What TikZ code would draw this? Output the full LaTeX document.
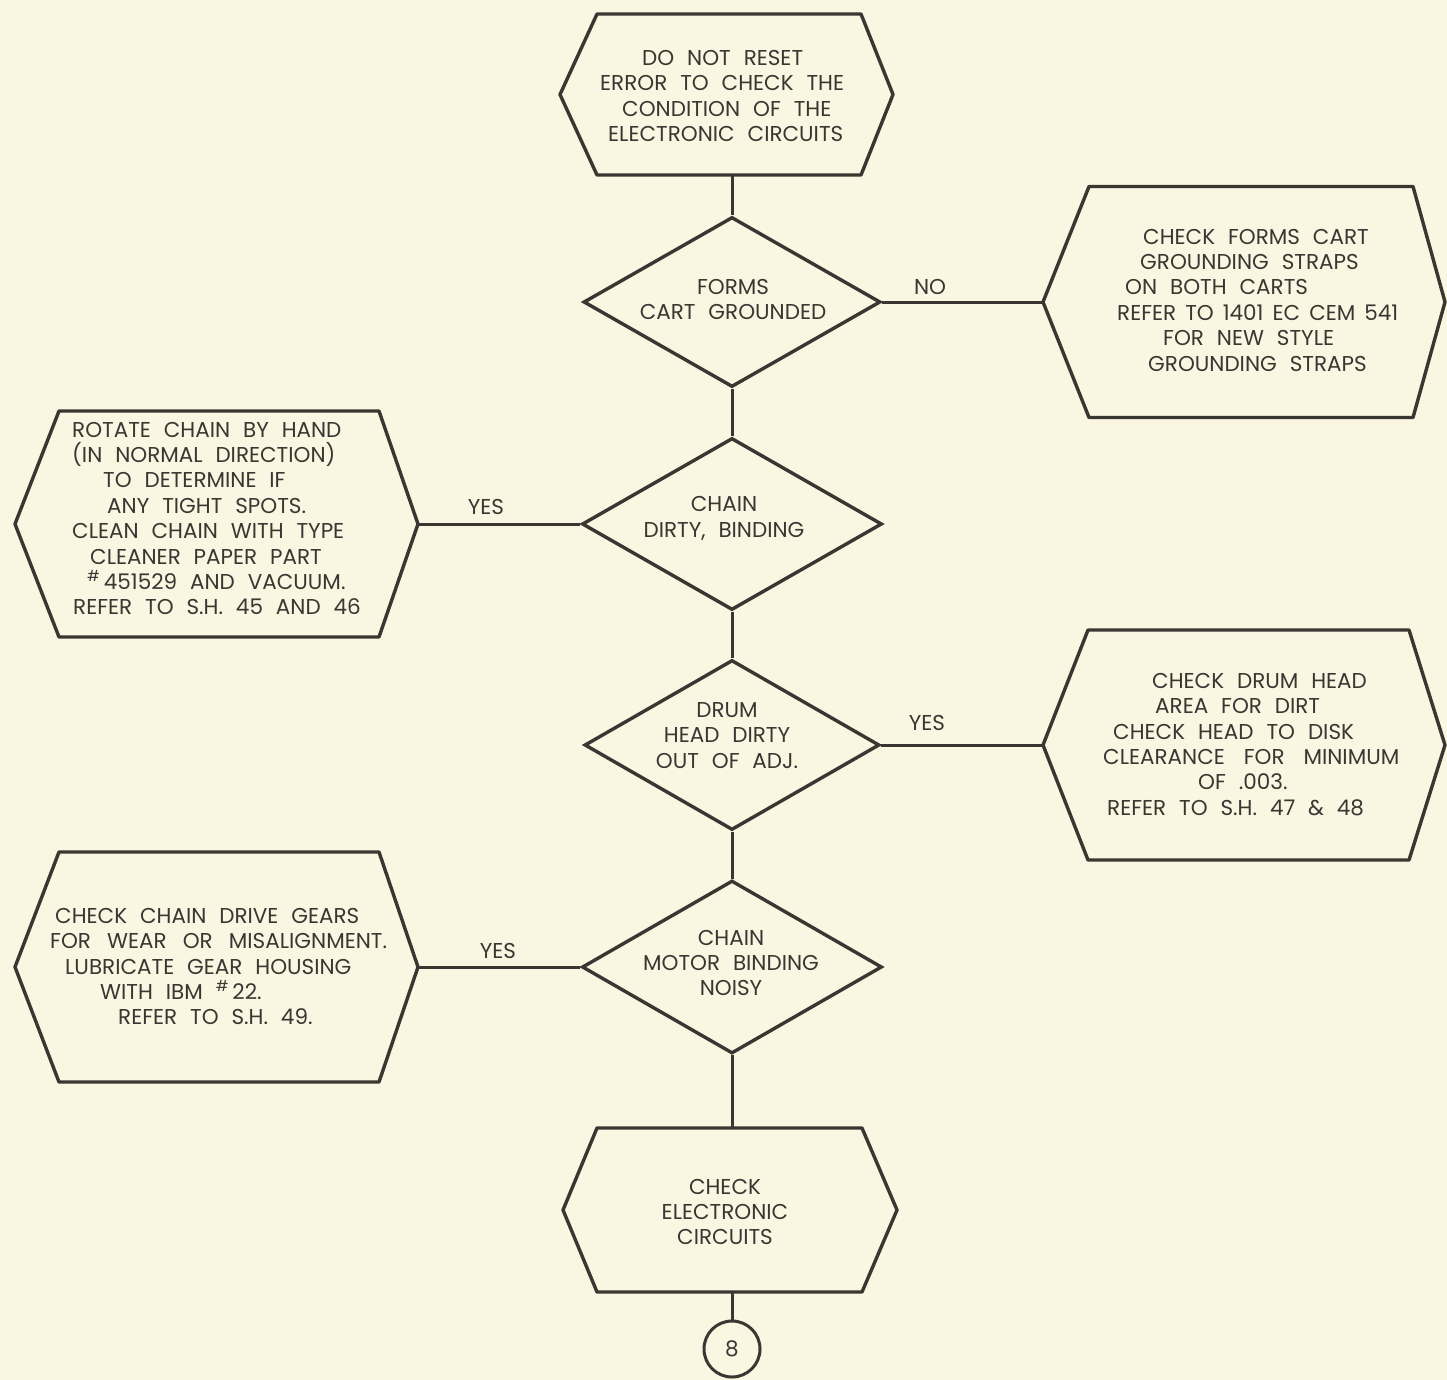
\documentclass[tikz,border=0pt]{standalone}
\usepackage{fontspec}
\setmainfont{Poppins}
\usetikzlibrary{shapes.geometric,calc}
\definecolor{paper}{RGB}{250,246,226}
\definecolor{ink}{RGB}{58,54,50}
\newcommand\chartfont{\fontsize{21.5}{25.4}\selectfont\spaceskip 0.6em plus 0.1em minus 0.1em\relax}
\newcommand\spaced[2]{\mbox{\spaceskip #1em\relax #2}}
\tikzset{
  outline/.style={draw=ink, line width=3.4pt, line join=round},
  wire/.style={draw=ink, line width=3pt},
  hexbody/.style={rectangle, draw=none, inner sep=0pt, outer sep=0pt},
  decision/.style={diamond, draw=ink, line width=3.4pt, inner sep=0pt},
  txt/.style={text=ink, inner sep=0pt, align=left, font=\chartfont},
  ctxt/.style={txt, align=center},
}
\begin{document}
\begin{tikzpicture}[x=1pt,y=-1pt]
\fill[paper] (0,0) rectangle (1447,1380);
\useasboundingbox (0,0) rectangle (1447,1380);

% ---- top hexagon
\node[hexbody, minimum width=264, minimum height=161] (h1) at (729,94.5) {};
\draw[outline] (h1.north west) -- (h1.north east) -- ([xshift=32pt]h1.east) -- (h1.south east) -- (h1.south west) -- ([xshift=-37pt]h1.west) -- cycle;
\node[txt, anchor=west] (t1) at (600,96) {\hspace*{42pt}DO NOT RESET\\ERROR TO CHECK THE\\\hspace*{22pt}CONDITION OF THE\\\hspace*{8pt}ELECTRONIC CIRCUITS};

% ---- right hexagon 1
\node[hexbody, minimum width=324, minimum height=231] (h2) at (1251,302) {};
\draw[outline] (h2.north west) -- (h2.north east) -- ([xshift=32pt]h2.east) -- (h2.south east) -- (h2.south west) -- ([xshift=-46pt]h2.west) coordinate (h2W) -- cycle;
\node[txt, anchor=west] (t2) at (1117,300) {\hspace*{26pt}CHECK FORMS CART\\\hspace*{23pt}GROUNDING STRAPS\\\hspace*{8pt}ON BOTH CARTS\\\spaced{0.42}{REFER TO 1401 EC CEM 541}\\\hspace*{46pt}FOR NEW STYLE\\\hspace*{31pt}GROUNDING STRAPS};

% ---- left hexagon 1
\node[hexbody, minimum width=320, minimum height=226] (h3) at (219,524) {};
\draw[outline] (h3.north west) -- (h3.north east) -- ([xshift=39pt]h3.east) coordinate (h3E) -- (h3.south east) -- (h3.south west) -- ([xshift=-44pt]h3.west) -- cycle;
\node[txt, anchor=west] (t3) at (72,518.5) {ROTATE CHAIN BY HAND\\(IN NORMAL DIRECTION)\\\hspace*{31pt}TO DETERMINE IF\\\hspace*{35pt}ANY TIGHT SPOTS.\\CLEAN CHAIN WITH TYPE\\\hspace*{18pt}CLEANER PAPER PART\\\hspace*{15pt}\textsuperscript{\#}\,451529 AND VACUUM.\\\hspace*{1pt}REFER TO S.H. 45 AND 46};

% ---- right hexagon 2
\node[hexbody, minimum width=321, minimum height=230] (h4) at (1248.5,745) {};
\draw[outline] (h4.north west) -- (h4.north east) -- ([xshift=36pt]h4.east) -- (h4.south east) -- (h4.south west) -- ([xshift=-45pt]h4.west) coordinate (h4W) -- cycle;
\node[txt, anchor=west] (t4) at (1103,744.5) {\hspace*{49pt}CHECK DRUM HEAD\\\hspace*{52pt}AREA FOR DIRT\\\hspace*{10pt}CHECK HEAD TO DISK\\\spaced{0.88}{CLEARANCE FOR MINIMUM}\\\hspace*{95pt}OF .003.\\\hspace*{4pt}REFER TO S.H. 47 \& 48};

% ---- left hexagon 2
\node[hexbody, minimum width=320, minimum height=230] (h5) at (219,967) {};
\draw[outline] (h5.north west) -- (h5.north east) -- ([xshift=39pt]h5.east) coordinate (h5E) -- (h5.south east) -- (h5.south west) -- ([xshift=-44pt]h5.west) -- cycle;
\node[txt, anchor=west] (t5) at (50,966.5) {\hspace*{5pt}CHECK CHAIN DRIVE GEARS\\\spaced{0.75}{FOR WEAR OR MISALIGNMENT.}\\\hspace*{15pt}LUBRICATE GEAR HOUSING\\\hspace*{50pt}WITH IBM \textsuperscript{\#}\,22.\\\hspace*{68pt}REFER TO S.H. 49.};

% ---- bottom hexagon
\node[hexbody, minimum width=265, minimum height=164] (h6) at (729.5,1210) {};
\draw[outline] (h6.north west) -- (h6.north east) -- ([xshift=35pt]h6.east) -- (h6.south east) -- (h6.south west) -- ([xshift=-34pt]h6.west) -- cycle;
\node[ctxt] (t6) at (725,1212) {CHECK\\ELECTRONIC\\CIRCUITS};

% ---- decisions
\node[decision, minimum width=297, minimum height=170] (d1) at (732,302) {};
\node[ctxt] (td1) at (733,299.5) {FORMS\\CART GROUNDED};
\node[decision, minimum width=300, minimum height=172] (d2) at (732,524) {};
\node[ctxt] (td2) at (724,518.5) {CHAIN\\DIRTY, BINDING};
\node[decision, minimum width=295, minimum height=170] (d3) at (732,745) {};
\node[ctxt] (td3) at (727,735.5) {DRUM\\HEAD DIRTY\\OUT OF ADJ.};
\node[decision, minimum width=300, minimum height=173] (d4) at (732,967) {};
\node[ctxt] (td4) at (731,963) {CHAIN\\MOTOR BINDING\\NOISY};

% ---- connector circle
\node[circle, draw=ink, line width=3pt, minimum size=56, inner sep=0pt, text=ink, font=\chartfont] (c8) at (732,1349) {8};

% ---- connectors
\draw[wire] (d1.north |- h1.south) -- (d1.north);
\draw[wire] (d1.south) -- (d2.north);
\draw[wire] (d2.south) -- (d3.north);
\draw[wire] (d3.south) -- (d4.north);
\draw[wire] (d4.south) -- (d4.south |- h6.north);
\draw[wire] (c8.north |- h6.south) -- (c8.north);
\draw[wire] (d1.east) -- (h2W);
\draw[wire] (h3E) -- (d2.west);
\draw[wire] (d3.east) -- (h4W);
\draw[wire] (h5E) -- (d4.west);

% ---- branch labels
\node[txt] (lno) at (930,287) {NO};
\node[txt] (ly1) at (486,507) {YES};
\node[txt] (ly2) at (927,723) {YES};
\node[txt] (ly3) at (498,951) {YES};
\end{tikzpicture}
\end{document}
